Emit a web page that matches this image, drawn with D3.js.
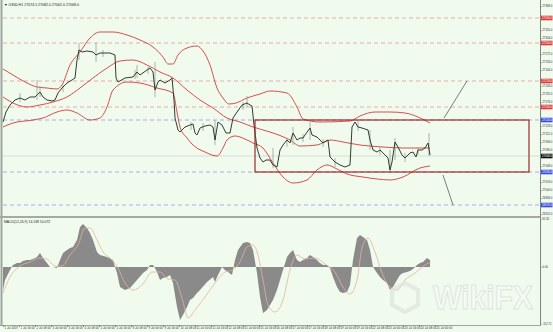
<!DOCTYPE html>
<html>
<head>
<meta charset="utf-8">
<script src="https://cdnjs.cloudflare.com/ajax/libs/d3/7.8.5/d3.min.js"></script>
<style>
  body { margin: 0; background: #f0fbee; }
  svg { display: block; font-family: "Liberation Sans", Arial, sans-serif; }
</style>
</head>
<body>
<div id="chart-area"></div>
<script>
const WIDTH = 553
const HEIGHT = 332
const PLOT = { LEFT: 3, RIGHT: 540, MAIN_TOP: 3, MAIN_BOTTOM: 215, SUB_TOP: 219, SUB_BOTTOM: 325 }

// price closes [bar, price]
const closes = [[0,27136],[3,27156],[7,27170],[12,27180],[17,27184],[22,27180],[27,27186],[32,27186],[34,27190],[37,27196],
  [40,27186],[44,27180],[49,27178],[52,27180],[55,27194],[59,27204],[64,27214],[69,27220],[72,27224],[74,27260],
  [76,27280],[79,27276],[84,27278],[90,27276],[93,27270],[97,27274],[102,27274],[107,27274],[112,27270],[113,27224],
  [115,27216],[122,27224],[130,27226],[134,27236],[137,27230],[144,27240],[147,27244],[150,27236],[152,27200],[155,27216],
  [157,27220],[162,27214],[167,27220],[169,27224],[171,27180],[172,27144],[175,27120],[177,27116],[182,27126],[187,27130],
  [190,27132],[192,27114],[194,27110],[197,27124],[202,27128],[207,27130],[210,27126],[212,27100],[215,27136],[219,27130],
  [223,27114],[227,27114],[230,27144],[234,27156],[239,27170],[244,27174],[247,27170],[249,27168],[251,27130],[254,27084],
  [257,27064],[260,27056],[263,27060],[267,27060],[270,27050],[274,27046],[277,27080],[280,27090],[284,27100],[287,27094],
  [290,27114],[294,27100],[297,27104],[300,27104],[302,27110],[307,27124],[309,27110],[314,27106],[317,27100],[320,27094],
  [325,27100],[327,27066],[332,27056],[337,27050],[342,27046],[347,27050],[349,27126],[352,27136],[355,27126],[359,27124],
  [365,27120],[367,27100],[370,27080],[374,27076],[377,27080],[382,27070],[385,27064],[387,27040],[389,27056],[392,27096],
  [395,27086],[399,27070],[402,27064],[407,27074],[410,27076],[413,27066],[415,27080],[419,27080],[422,27084],[425,27094],
  [427,27070]]

// wicks [bar, high, low]
const wicks = [[17,27194,27176],[34,27220,27180],[37,27208,27186],[60,27210,27196],[76,27294,27260],[93,27294,27256],
  [100,27280,27266],[132,27240,27222],[134,27250,27224],[145,27246,27232],[152,27256,27186],[188,27136,27120],
  [200,27134,27118],[212,27140,27090],[240,27176,27160],[244,27188,27164],[270,27084,27044],[284,27104,27086],
  [290,27126,27090],[300,27112,27096],[307,27136,27100],[320,27102,27086],[332,27064,27046],[355,27140,27118],
  [367,27120,27080],[377,27086,27070],[387,27080,27034],[392,27104,27060],[402,27074,27056],[415,27086,27070],
  [426,27114,27068]]

// Bollinger bands [bar, price]
const bandUpper = [[0,27242],[10,27230],[24,27214],[34,27206],[44,27204],[54,27202],[59,27210],[67,27250],[77,27276],
  [87,27304],[97,27316],[110,27316],[124,27310],[137,27300],[150,27286],[160,27266],[165,27252],[170,27252],[175,27270],
  [184,27284],[194,27288],[200,27278],[207,27250],[214,27204],[220,27184],[226,27172],[233,27174],[244,27184],[257,27192],
  [267,27198],[284,27194],[294,27166],[300,27142],[317,27136],[347,27138],[357,27148],[372,27156],[387,27156],[402,27154],
  [415,27146],[427,27134]]
const bandMiddle = [[0,27186],[10,27174],[24,27166],[37,27170],[50,27176],[64,27186],[77,27204],[90,27224],[104,27244],
  [117,27258],[130,27260],[144,27250],[157,27236],[170,27224],[184,27200],[197,27180],[210,27164],[224,27144],[237,27136],
  [250,27126],[267,27116],[287,27100],[297,27088],[314,27090],[327,27100],[340,27096],[357,27090],[380,27086],[400,27084],
  [427,27084]]
const bandLower = [[0,27126],[10,27134],[30,27140],[40,27144],[54,27156],[64,27160],[74,27154],[87,27140],[97,27144],
  [104,27166],[110,27200],[124,27216],[137,27214],[154,27204],[170,27194],[174,27156],[177,27126],[184,27104],[190,27090],
  [202,27076],[214,27068],[220,27084],[224,27100],[232,27108],[242,27102],[250,27094],[260,27084],[270,27054],[280,27026],
  [290,27014],[304,27020],[314,27040],[324,27050],[334,27042],[344,27032],[360,27026],[374,27022],[387,27020],[400,27026],
  [417,27044],[427,27048]]

// MACD histogram and signal [bar, value]
const macdHist = [[0,-46],[2,-26],[7,-6],[10,4],[14,8],[17,8],[20,12],[24,14],[27,14],[30,16],[34,20],[37,28],[40,18],
  [44,8],[47,0],[50,0],[54,-2],[57,14],[60,28],[64,34],[67,38],[70,40],[74,54],[77,80],[80,86],[84,78],[87,68],[90,54],
  [94,30],[97,24],[104,20],[110,14],[112,0],[114,-12],[117,-40],[122,-46],[127,-42],[134,-26],[140,-12],[144,-6],[147,4],
  [150,4],[152,-2],[154,-10],[157,-26],[160,-22],[164,-20],[167,-16],[170,-32],[174,-80],[177,-106],[180,-96],[184,-80],
  [187,-66],[190,-62],[194,-52],[197,-46],[204,-30],[210,-20],[212,-30],[215,-16],[219,0],[222,-6],[225,-10],[229,-16],
  [232,14],[235,34],[240,48],[244,50],[247,48],[250,34],[254,-12],[257,-60],[260,-92],[264,-86],[270,-66],[274,-46],
  [280,-6],[284,20],[287,28],[290,34],[294,14],[297,10],[300,14],[304,18],[307,24],[310,20],[314,14],[317,8],[320,4],
  [324,4],[327,-2],[330,-20],[334,-40],[337,-50],[340,-52],[344,-50],[347,-36],[350,14],[354,58],[357,64],[360,60],
  [364,54],[367,34],[370,0],[374,-12],[377,-20],[380,-26],[384,-32],[387,-46],[390,-40],[394,-26],[397,-16],[400,-12],
  [404,-10],[407,-8],[410,-4],[414,4],[417,8],[420,10],[424,18],[427,14]]
const macdSignal = [[0,-52],[7,-20],[17,2],[27,10],[37,18],[44,16],[52,2],[59,2],[67,24],[75,44],[82,78],[87,78],[94,54],
  [100,30],[107,18],[115,-2],[122,-32],[130,-46],[140,-34],[149,-10],[157,-10],[165,-24],[172,-26],[179,-62],[185,-102],
  [192,-86],[202,-60],[212,-32],[222,-10],[229,-6],[237,10],[244,40],[250,44],[255,24],[260,-26],[265,-76],[272,-90],
  [280,-66],[287,-6],[294,24],[302,16],[312,18],[322,6],[332,-10],[340,-40],[347,-54],[354,-26],[359,38],[365,58],
  [372,30],[379,-12],[387,-40],[394,-46],[402,-26],[412,-12],[422,4],[428,10]]

// horizontal levels, box and trend lines
const redLevels = [27344, 27294, 27218, 27166]
const blueLevels = [27140, 27036, 26970]
const lastPrice = 27068
const boxBars = [252, 526]
const boxPrices = [27140, 27036]
const trendLines = [[[441, 27144], [464, 27218]], [[440, 27030], [450, 26970]]]

// axis labels
const priceTicks = [27368, 27352, 27336, 27320, 27304, 27288, 27272, 27256, 27240, 27224, 27208, 27192, 27176, 27160,
  27144, 27128, 27112, 27096, 27080, 27064, 27048, 27032, 27016, 27000, 26984, 26968, 26952]
const macdTicks = [95.82, 0, -112.71]
const dateLabels = ["1 Jul 2019", "1 Jul 16:00", "2 Jul 08:00", "3 Jul 00:00", "3 Jul 16:00", "4 Jul 08:00", "5 Jul 00:00",
  "5 Jul 16:00", "8 Jul 08:00", "9 Jul 00:00", "9 Jul 16:00", "10 Jul 08:00", "11 Jul 00:00", "11 Jul 16:00",
  "12 Jul 08:00", "15 Jul 00:00", "15 Jul 16:00", "16 Jul 08:00", "17 Jul 00:00", "17 Jul 16:00", "18 Jul 08:00",
  "19 Jul 00:00", "19 Jul 16:00", "22 Jul 08:00", "23 Jul 00:00", "23 Jul 16:00", "24 Jul 08:00", "25 Jul 00:00"]
const dateBars = dateLabels.map((d, i) => i * 16)

const svg = d3.select("#chart-area").append("svg")
  .attr("width", WIDTH)
  .attr("height", HEIGHT)

svg.append("rect")
  .attr("width", WIDTH)
  .attr("height", HEIGHT)
  .attr("fill", "#f0fbee")

const x = d3.scaleLinear().domain([0, 537]).range([PLOT.LEFT, PLOT.RIGHT])
const y = d3.scaleLinear().domain([26950, 27374]).range([PLOT.MAIN_BOTTOM, PLOT.MAIN_TOP])
const m = d3.scaleLinear().domain([-116, 96]).range([PLOT.SUB_BOTTOM, PLOT.SUB_TOP])

const main = svg.append("g")

// levels
main.selectAll(".red-level").data(redLevels).enter().append("line")
  .attr("x1", PLOT.LEFT).attr("x2", PLOT.RIGHT)
  .attr("y1", d => y(d)).attr("y2", d => y(d))
  .attr("stroke", "#e69a9a").attr("stroke-width", 0.8).attr("stroke-dasharray", "4,3")

main.selectAll(".blue-level").data(blueLevels).enter().append("line")
  .attr("x1", PLOT.LEFT).attr("x2", PLOT.RIGHT)
  .attr("y1", d => y(d)).attr("y2", d => y(d))
  .attr("stroke", "#9a9ae6").attr("stroke-width", 0.8).attr("stroke-dasharray", "4,3")

main.append("line")
  .attr("x1", PLOT.LEFT).attr("x2", PLOT.RIGHT)
  .attr("y1", y(lastPrice)).attr("y2", y(lastPrice))
  .attr("stroke", "#cdd8cd").attr("stroke-width", 0.8)

// bands
const bandLine = d3.line().x(d => x(d[0])).y(d => y(d[1])).curve(d3.curveMonotoneX)
;[bandUpper, bandMiddle, bandLower].forEach(b => {
  main.append("path")
    .attr("d", bandLine(b))
    .attr("fill", "none")
    .attr("stroke", "#d43a3a")
    .attr("stroke-width", 0.9)
})

// wicks + close line
main.selectAll(".wick").data(wicks).enter().append("line")
  .attr("x1", d => x(d[0])).attr("x2", d => x(d[0]))
  .attr("y1", d => y(d[1])).attr("y2", d => y(d[2]))
  .attr("stroke", "#98a298").attr("stroke-width", 0.8)

main.append("path")
  .attr("d", d3.line().x(d => x(d[0])).y(d => y(d[1]))(closes))
  .attr("fill", "none")
  .attr("stroke", "#263326")
  .attr("stroke-width", 0.95)

// box
main.append("rect")
  .attr("x", x(boxBars[0])).attr("y", y(boxPrices[0]))
  .attr("width", x(boxBars[1]) - x(boxBars[0]))
  .attr("height", y(boxPrices[1]) - y(boxPrices[0]))
  .attr("fill", "none").attr("stroke", "#9c2a2a").attr("stroke-width", 1.2)

// trend lines
main.selectAll(".trend").data(trendLines).enter().append("line")
  .attr("x1", d => x(d[0][0])).attr("y1", d => y(d[0][1]))
  .attr("x2", d => x(d[1][0])).attr("y2", d => y(d[1][1]))
  .attr("stroke", "#5a5f5a").attr("stroke-width", 0.8)

// MACD panel
const sub = svg.append("g")
sub.append("path")
  .attr("d", d3.area().x(d => x(d[0])).y0(m(0)).y1(d => m(d[1]))(macdHist))
  .attr("fill", "#8a8a8a")

sub.append("path")
  .attr("d", d3.line().x(d => x(d[0])).y(d => m(d[1])).curve(d3.curveMonotoneX)(macdSignal))
  .attr("fill", "none").attr("stroke", "#e2b39f").attr("stroke-width", 0.8)

// watermark
const wm = svg.append("g").attr("opacity", 0.8)
wm.append("path")
  .attr("d", "M405,283 L418,290 L418,305 L405,312 L392,305 L392,290 Z")
  .attr("fill", "none").attr("stroke", "#dfe6df").attr("stroke-width", 4).attr("stroke-linejoin", "round")
wm.append("text")
  .attr("x", 433).attr("y", 309)
  .attr("font-size", 34).attr("font-weight", "bold")
  .attr("textLength", 100).attr("lengthAdjust", "spacingAndGlyphs")
  .attr("fill", "#f6faf6").attr("stroke", "#d9e1d9").attr("stroke-width", 1)
  .text("WikiFX")

// frame
svg.append("line").attr("x1", 1.5).attr("x2", 1.5).attr("y1", 0).attr("y2", 326)
  .attr("stroke", "#9ea69e").attr("stroke-width", 2)
svg.append("line").attr("x1", 0).attr("x2", PLOT.RIGHT).attr("y1", 217).attr("y2", 217)
  .attr("stroke", "#a2aaa2").attr("stroke-width", 2)
svg.append("line").attr("x1", 0).attr("x2", PLOT.RIGHT + 1).attr("y1", 325.5).attr("y2", 325.5)
  .attr("stroke", "#9ea69e").attr("stroke-width", 1)

// level price tags (tick labels close to a tag are hidden, as the terminal does)
const tags = [
  ...redLevels.map(p => ({ p, c: "#e03a3a" })),
  ...blueLevels.map(p => ({ p, c: "#3a4ee0" })),
  { p: lastPrice, c: "#111" }
]
const shownTicks = priceTicks.filter(t => tags.every(g => Math.abs(y(g.p) - y(t)) > 4.5))

// axes
const yAxisGroup = svg.append("g")
  .attr("transform", `translate(${PLOT.RIGHT}, 0)`)
  .call(d3.axisRight(y).tickValues(shownTicks).tickSize(1.5).tickPadding(0.8).tickFormat(d => d.toFixed(1)))
yAxisGroup.select(".domain").attr("d", `M0.5,0V${PLOT.SUB_BOTTOM}`).attr("stroke", "#7d857d")
yAxisGroup.selectAll("text").attr("font-size", 2.8).attr("fill", "#333")
yAxisGroup.selectAll(".tick line").attr("stroke", "#7d857d")

const mAxisGroup = svg.append("g")
  .attr("transform", `translate(${PLOT.RIGHT}, 0)`)
  .call(d3.axisRight(m).tickValues(macdTicks).tickSize(1.5).tickPadding(0.8).tickFormat(d => d.toFixed(2)))
mAxisGroup.select(".domain").remove()
mAxisGroup.selectAll("text").attr("font-size", 2.8).attr("fill", "#333")
mAxisGroup.selectAll(".tick line").attr("stroke", "#7d857d")

const xAxisGroup = svg.append("g")
  .attr("transform", `translate(0, ${PLOT.SUB_BOTTOM})`)
  .call(d3.axisBottom(x).tickValues(dateBars).tickSize(2).tickPadding(1).tickFormat((d, i) => dateLabels[i]))
xAxisGroup.select(".domain").remove()
xAxisGroup.selectAll("text").attr("font-size", 2.9).attr("fill", "#333")
  .attr("text-anchor", "start").attr("dx", 1).attr("dy", "0.3em")
xAxisGroup.selectAll(".tick line").attr("stroke", "#7d857d")

const tagG = svg.selectAll(".tag").data(tags).enter().append("g")
  .attr("transform", d => `translate(${PLOT.RIGHT + 1}, ${y(d.p)})`)
tagG.append("rect")
  .attr("x", 0).attr("y", -2.3).attr("width", 11.5).attr("height", 4.6)
  .attr("fill", d => d.c)
tagG.append("text")
  .attr("x", 1).attr("y", 1)
  .attr("font-size", 2.8).attr("fill", "#fff")
  .text(d => d.p.toFixed(1))

// titles
svg.append("text")
  .attr("x", 4).attr("y", 5.5)
  .attr("font-size", 3.6).attr("fill", "#222")
  .text("\u25BC US30,H1  27074.5 27082.0 27062.0 27068.0")
svg.append("text")
  .attr("x", 4).attr("y", 222.5)
  .attr("font-size", 3.4).attr("fill", "#222")
  .text("MACD(12,26,9) 14.138 10.072")
</script>
</body>
</html>
